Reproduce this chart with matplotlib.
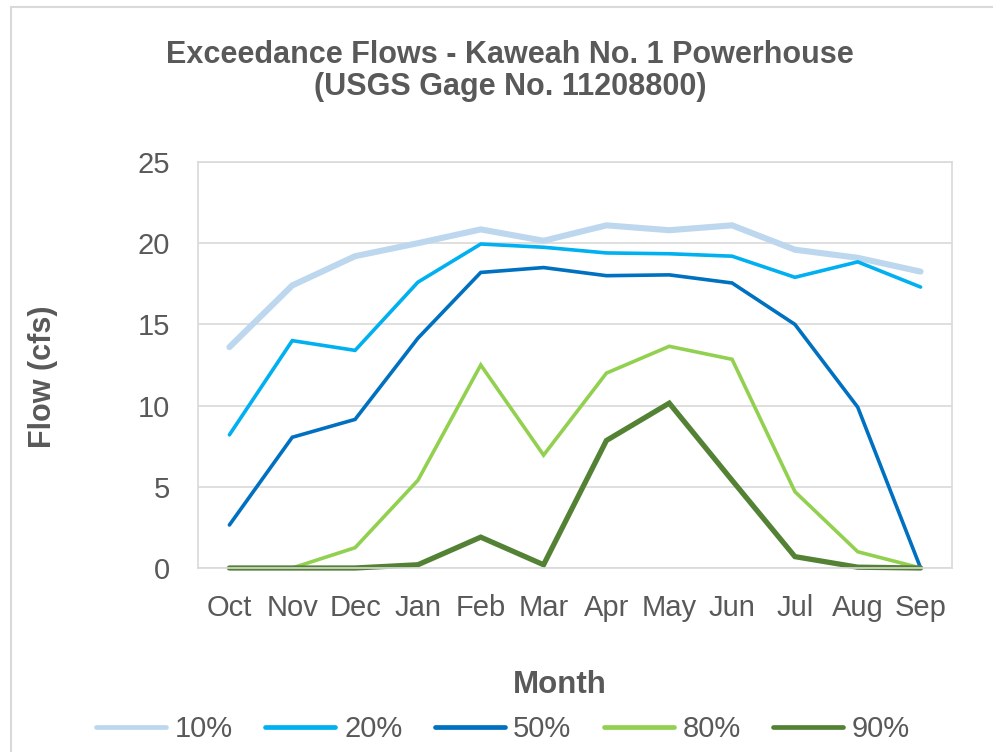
import matplotlib
matplotlib.use("Agg")
import matplotlib.pyplot as plt
from matplotlib.patches import Rectangle

months = ["Oct", "Nov", "Dec", "Jan", "Feb", "Mar", "Apr", "May", "Jun", "Jul", "Aug", "Sep"]
p10 = [13.6, 17.4, 19.2, 20.0, 20.85, 20.15, 21.1, 20.8, 21.1, 19.6, 19.1, 18.25]
p20 = [8.2, 14.0, 13.4, 17.6, 19.95, 19.75, 19.4, 19.35, 19.2, 17.9, 18.85, 17.3]
p50 = [2.65, 8.05, 9.15, 14.15, 18.2, 18.5, 18.0, 18.05, 17.55, 15.0, 9.9, 0.0]
p80 = [0.0, 0.0, 1.25, 5.4, 12.5, 6.95, 12.0, 13.65, 12.85, 4.7, 1.0, 0.0]
p90 = [0.0, 0.0, 0.0, 0.2, 1.9, 0.2, 7.85, 10.15, 5.4, 0.7, 0.05, 0.0]
series_labels = ["10%", "20%", "50%", "80%", "90%"]
yticks = [0, 5, 10, 15, 20, 25]

plt.rcParams['font.family'] = ['Liberation Sans', 'DejaVu Sans']
txt = "#595959"
grid = "#D9D9D9"

fig = plt.figure(figsize=(9.93, 7.52), dpi=100)
fig.patch.set_facecolor("white")

# chart-area border (cropped on right/bottom)
fig.add_artist(Rectangle((11/993, -0.1), 1.2, 1 - 7/752 + 0.1, transform=fig.transFigure,
                         fill=False, edgecolor=grid, linewidth=1.5))

ax = fig.add_axes([198/993, 1 - 568/752, (952 - 198)/993, (568 - 162)/752])
x = list(range(len(months)))
styles = [
    (p10, "#BDD7EE", 4.4),
    (p20, "#00B0F0", 2.6),
    (p50, "#0070C0", 2.6),
    (p80, "#92D050", 2.6),
    (p90, "#548235", 3.8),
]
for (vals, c, lw), lab in zip(styles, series_labels):
    ax.plot(x, vals, color=c, lw=lw, label=lab, solid_capstyle="round", solid_joinstyle="miter", clip_on=False)

ax.set_xlim(-0.5, len(months) - 0.5)
ax.set_ylim(0, 25)
ax.set_yticks(yticks)
ax.set_xticks(x)
ax.set_xticklabels(months)
ax.tick_params(axis="both", length=0, labelsize=21, colors=txt)
ax.tick_params(axis="y", pad=20)
ax.tick_params(axis="x", pad=19)
ax.grid(axis="y", color=grid, lw=1.2)
ax.set_axisbelow(True)
for s in ax.spines.values():
    s.set_color(grid)
    s.set_linewidth(1.2)

fig.text(43/993, 1 - 377/752, "Flow (cfs)", rotation=90, fontsize=22, fontweight="bold",
         color=txt, ha="center", va="center")

fig.text(560/993, 1 - 685/752, "Month", fontsize=22.5, fontweight="bold", color=txt,
         ha="center", va="center")
fig.text(510/993, 1 - 71/752, "Exceedance Flows - Kaweah No. 1 Powerhouse\n(USGS Gage No. 11208800)",
         fontsize=22, fontweight="bold", color=txt, ha="center", va="center", linespacing=1.12)

leg = fig.legend(loc="center", bbox_to_anchor=(503/993, 1 - 729/752), ncol=5, frameon=False,
                 fontsize=21, handlelength=2.4, handletextpad=0.3, columnspacing=1.1,
                 labelcolor=txt)
for h in leg.legend_handles:
    h.set_linewidth(3.4)
    h.set_solid_capstyle("round")

fig.savefig("out.png", dpi=100, facecolor="white")
